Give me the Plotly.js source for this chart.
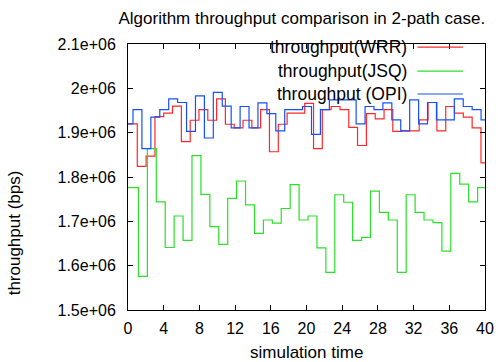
<!DOCTYPE html>
<html><head><meta charset="utf-8">
<script src="https://cdn.plot.ly/plotly-3.0.1.min.js"></script>
<style>html,body{margin:0;padding:0;background:#fff;} #chart{width:498px;height:362px;}</style>
</head><body><div id="chart"></div>
<script>
// simulation time of each sample
const wrrTime = [0, 1.04, 2.03, 3.02, 4.00, 4.99, 5.98, 6.97, 7.95, 8.94, 9.93, 10.91, 11.90, 12.89, 13.88, 14.86, 15.85, 16.84, 17.83, 18.81, 19.80, 20.79, 21.77, 22.76, 23.75, 24.74, 25.72, 26.71, 27.70, 28.69, 29.67, 30.66, 31.65, 32.63, 33.62, 34.61, 35.60, 36.58, 37.57, 38.56, 39.55];
const wrrThroughput = [1920000, 1824000, 1847000, 1936000, 1944000, 1960000, 1880000, 1928000, 1952000, 1928000, 1976000, 1919000, 1911000, 1928000, 1911000, 1952000, 1857000, 1919000, 1944000, 1944000, 1966000, 1864000, 1952000, 1959000, 1952000, 1912000, 1871000, 1943000, 1931000, 1952000, 1903000, 1904000, 1904000, 1929000, 1968000, 1904000, 1959000, 1944000, 1935000, 1911000, 1832000];

const jsqTime = [0, 1.17, 2.17, 3.17, 4.17, 5.17, 6.17, 7.17, 8.17, 9.17, 10.17, 11.17, 12.17, 13.17, 14.17, 15.17, 16.17, 17.17, 18.17, 19.17, 20.17, 21.17, 22.17, 23.17, 24.17, 25.17, 26.17, 27.17, 28.17, 29.17, 30.17, 31.17, 32.17, 33.17, 34.17, 35.17, 36.17, 37.17, 38.17, 39.17];
const jsqThroughput = [1776000, 1576000, 1864000, 1744000, 1641000, 1712000, 1657000, 1848000, 1761000, 1688000, 1648000, 1752000, 1791000, 1737000, 1673000, 1703000, 1696000, 1729000, 1783000, 1703000, 1712000, 1640000, 1585000, 1760000, 1743000, 1657000, 1664000, 1768000, 1720000, 1703000, 1585000, 1760000, 1720000, 1703000, 1697000, 1633000, 1808000, 1784000, 1744000, 1776000];

const opiTime = [0, 0.56, 1.56, 2.56, 3.56, 4.56, 5.56, 6.56, 7.56, 8.56, 9.56, 10.56, 11.56, 12.56, 13.56, 14.56, 15.56, 16.56, 17.56, 18.56, 19.56, 20.56, 21.56, 22.56, 23.56, 24.56, 25.56, 26.56, 27.56, 28.56, 29.56, 30.56, 31.56, 32.56, 33.56, 34.56, 35.56, 36.56, 37.56, 38.56, 39.56];
const opiThroughput = [1920000, 1952000, 1864000, 1935000, 1952000, 1976000, 1968000, 1903000, 1983000, 1888000, 1991000, 1960000, 1911000, 1959000, 1911000, 1967000, 1943000, 1904000, 1952000, 1952000, 1959000, 1896000, 1952000, 1974000, 1974000, 1974000, 1920000, 1959000, 1952000, 1967000, 1929000, 1904000, 1974000, 1920000, 1968000, 1929000, 1929000, 1976000, 1959000, 1952000, 1929000];

const seriesNames = ['throughput(WRR)', 'throughput(JSQ)', 'throughput (OPI)'];
const seriesColors = ['rgb(255,40,40)', 'rgb(40,225,40)', 'rgb(20,80,255)'];
const xTicks = [0, 4, 8, 12, 16, 20, 24, 28, 32, 36, 40];
const yTicks = [1500000, 1600000, 1700000, 1800000, 1900000, 2000000, 2100000];
const yTickText = ['1.5e+06', '1.6e+06', '1.7e+06', '1.8e+06', '1.9e+06', '2e+06', '2.1e+06'];
const xEnd = 40;

function holdToEnd(t, v) {
  return { x: t.concat([xEnd]), y: v.concat([v[v.length - 1]]) };
}

const sets = [[wrrTime, wrrThroughput], [jsqTime, jsqThroughput], [opiTime, opiThroughput]];
const traces = sets.map((s, i) => {
  const d = holdToEnd(s[0], s[1]);
  return { x: d.x, y: d.y, type: 'scatter', mode: 'lines', name: seriesNames[i],
    line: { shape: 'hv', color: seriesColors[i], width: 1.2 }, showlegend: false };
});

const FONT = 'Liberation Sans, Arial, Helvetica, sans-serif';
const legendY = [0.988, 0.898, 0.812];
const shapes = [], annotations = [];
legendY.forEach((yy, i) => {
  shapes.push({ type: 'line', xref: 'paper', yref: 'paper', x0: 0.811, x1: 0.938, y0: yy, y1: yy,
    line: { color: seriesColors[i], width: 1.2 } });
  annotations.push({ xref: 'paper', yref: 'paper', x: 0.788, y: yy, xanchor: 'right', yanchor: 'middle',
    text: seriesNames[i], showarrow: false, font: { family: FONT, size: 17.5, color: '#000' } });
});
annotations.push({ xref: 'paper', yref: 'paper', x: 0.5, y: -0.158, xanchor: 'center', yanchor: 'middle',
  text: 'simulation time', showarrow: false, font: { family: FONT, size: 17, color: '#000' } });
annotations.push({ xref: 'paper', yref: 'paper', x: -0.318, y: 0.29, xanchor: 'center', yanchor: 'middle', textangle: -90,
  text: 'throughput (bps)', showarrow: false, font: { family: FONT, size: 17, color: '#000' } });

const axisCommon = { showline: true, mirror: 'ticks', linecolor: '#000', linewidth: 1, ticks: 'inside',
  ticklen: 5, tickcolor: '#000', showgrid: false, zeroline: false, fixedrange: true,
  tickfont: { family: FONT, size: 16, color: '#000' } };

const layout = {
  width: 498, height: 362,
  margin: { l: 128, r: 13, t: 44, b: 52, pad: 0 },
  paper_bgcolor: '#fff', plot_bgcolor: '#fff',
  title: { text: 'Algorithm throughput comparison in 2-path case.', x: 0.606, xanchor: 'center', y: 0.95, yanchor: 'middle',
    font: { family: FONT, size: 17, color: '#000' } },
  xaxis: Object.assign({}, axisCommon, { range: [0, 40], tickvals: xTicks, ticktext: xTicks.map(String), ticklabelstandoff: 4 }),
  yaxis: Object.assign({}, axisCommon, { range: [1500000, 2100000], tickvals: yTicks, ticktext: yTickText, ticklabelstandoff: 8 }),
  shapes: shapes, annotations: annotations, showlegend: false
};

Plotly.newPlot('chart', traces, layout, { displayModeBar: false, staticPlot: true });
</script>
</body></html>
